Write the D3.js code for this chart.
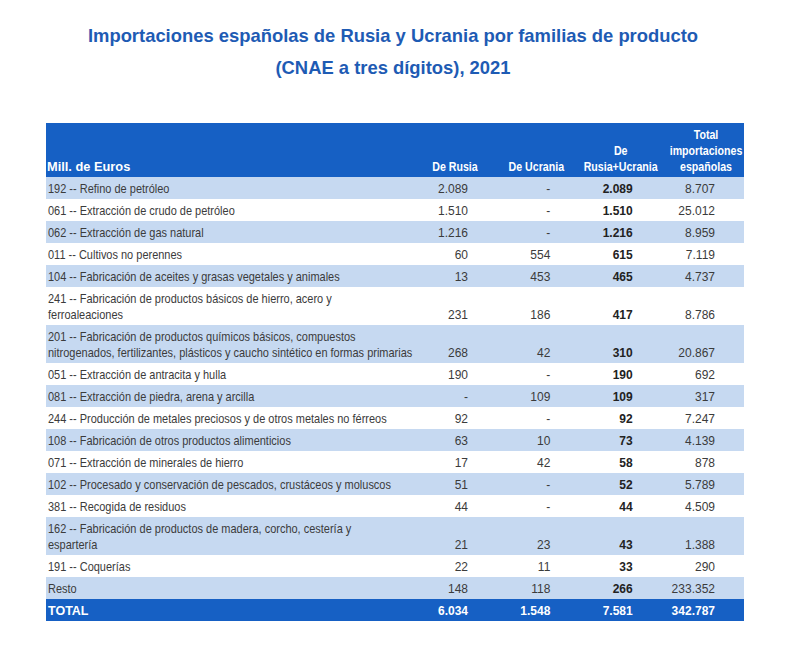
<!DOCTYPE html>
<html><head><meta charset="utf-8">
<script src="https://cdn.jsdelivr.net/npm/d3@7"></script>
<style>body{margin:0;background:#fff;}svg{display:block;font-family:"Liberation Sans",Arial,sans-serif;}</style>
</head><body><div id="chart"></div>
<script>
const titleLines = ["Importaciones españolas de Rusia y Ucrania por familias de producto", "(CNAE a tres dígitos), 2021"];
const unitLabel = "Mill. de Euros";
const columnKeys = ["rusia", "ucrania", "ambos", "total"];
const columnHeaders = [["De Rusia"], ["De Ucrania"], ["De", "Rusia+Ucrania"], ["Total", "importaciones", "españolas"]];
const categories = [
  "192 -- Refino de petróleo",
  "061 -- Extracción de crudo de petróleo",
  "062 -- Extracción de gas natural",
  "011 -- Cultivos no perennes",
  "104 -- Fabricación de aceites y grasas vegetales y animales",
  "241 -- Fabricación de productos básicos de hierro, acero y\nferroaleaciones",
  "201 -- Fabricación de productos químicos básicos, compuestos\nnitrogenados, fertilizantes, plásticos y caucho sintético en formas primarias",
  "051 -- Extracción de antracita y hulla",
  "081 -- Extracción de piedra, arena y arcilla",
  "244 -- Producción de metales preciosos y de otros metales no férreos",
  "108 -- Fabricación de otros productos alimenticios",
  "071 -- Extracción de minerales de hierro",
  "102 -- Procesado y conservación de pescados, crustáceos y moluscos",
  "381 -- Recogida de residuos",
  "162 -- Fabricación de productos de madera, corcho, cestería y\nespartería",
  "191 -- Coquerías",
  "Resto"
];
const deRusia   = [2089, 1510, 1216, 60, 13, 231, 268, 190, null, 92, 63, 17, 51, 44, 21, 22, 148];
const deUcrania = [null, null, null, 554, 453, 186, 42, null, 109, null, 10, 42, null, null, 23, 11, 118];
const deAmbos   = [2089, 1510, 1216, 615, 465, 417, 310, 190, 109, 92, 73, 58, 52, 44, 43, 33, 266];
const totalImp  = [8707, 25012, 8959, 7119, 4737, 8786, 20867, 692, 317, 7247, 4139, 878, 5789, 4509, 1388, 290, 233352];
const totalLabel = "TOTAL";
const totalRow = [6034, 1548, 7581, 342787];

const W = 804, H = 646;
const blue = "#1660C4", light = "#C6D9F1", txt = "#3b3b3b", titleBlue = "#1E5BB4";
const left = 46, right = 744, headTop = 123, headBottom = 177;
const labelSx = 0.915, headSx = 0.85;
const fmt = d3.formatLocale({decimal: ",", thousands: ".", grouping: [3], currency: ["", "€"]}).format(",d");
const f = v => v == null ? "-" : fmt(v);

const svg = d3.select("#chart").append("svg").attr("width", W).attr("height", H);
svg.append("rect").attr("width", W).attr("height", H).attr("fill", "#fff");

// title
svg.selectAll("text.title").data(titleLines).join("text")
  .attr("class", "title")
  .attr("x", 393).attr("y", (d, i) => 42 + i * 32)
  .attr("text-anchor", "middle")
  .attr("font-size", 18.4).attr("font-weight", "bold").attr("fill", titleBlue)
  .text(d => d);

// rows layout
const rows = categories.map((c, i) => ({
  lines: c.split("\n"), vals: [deRusia[i], deUcrania[i], deAmbos[i], totalImp[i]], total: false
}));
rows.push({lines: [totalLabel], vals: totalRow, total: true});
let yy = headBottom;
rows.forEach(r => { r.h = r.lines.length > 1 ? 38 : 22; r.y = yy; yy += r.h; });

const x = d3.scalePoint().domain(columnKeys).range([468, 715]);
const hdrOffset = {rusia: -13, ucrania: -14, ambos: -12, total: -9};

// header
svg.append("rect").attr("x", left).attr("y", headTop).attr("width", right - left).attr("height", headBottom - headTop).attr("fill", blue);
svg.append("text").attr("transform", "translate(47,171) scale(0.95,1)").attr("fill", "#fff")
  .attr("font-weight", "bold").attr("font-size", 13.5).text(unitLabel);
const hg = svg.selectAll("g.hdr").data(columnKeys).join("g").attr("class", "hdr");
hg.each(function(k, i) {
  const ls = columnHeaders[i];
  d3.select(this).selectAll("text").data(ls).join("text")
    .attr("transform", (d, j) => `translate(${x(k) + hdrOffset[k]},${171 - (ls.length - 1 - j) * 16}) scale(${headSx},1)`)
    .attr("text-anchor", "middle").attr("fill", "#fff").attr("font-weight", "bold").attr("font-size", 12.5)
    .text(d => d);
});

// body rows
const rg = svg.selectAll("g.row").data(rows).join("g").attr("class", "row")
  .attr("transform", d => `translate(0,${d.y})`);
rg.append("rect").attr("x", left).attr("width", right - left).attr("height", d => d.h)
  .attr("fill", (d, i) => d.total ? blue : (i % 2 === 0 ? light : "none"));
rg.each(function(r) {
  const g = d3.select(this);
  g.selectAll("text.lab").data(r.lines).join("text").attr("class", "lab")
    .attr("transform", (d, j) => `translate(48,${16 + j * 16}) scale(${r.total ? 1 : labelSx},1)`)
    .attr("font-size", r.total ? 12.5 : 12).attr("font-weight", r.total ? "bold" : "normal")
    .attr("fill", r.total ? "#fff" : txt).text(d => d);
  g.selectAll("text.val").data(columnKeys).join("text").attr("class", "val")
    .attr("x", k => x(k)).attr("y", r.h - 6)
    .attr("text-anchor", "end").attr("font-size", 12)
    .attr("font-weight", k => (r.total || k === "ambos") ? "bold" : "normal")
    .attr("fill", r.total ? "#fff" : (k => k === "ambos" ? "#222" : txt))
    .text((k, j) => f(r.vals[j]));
});
</script></body></html>
